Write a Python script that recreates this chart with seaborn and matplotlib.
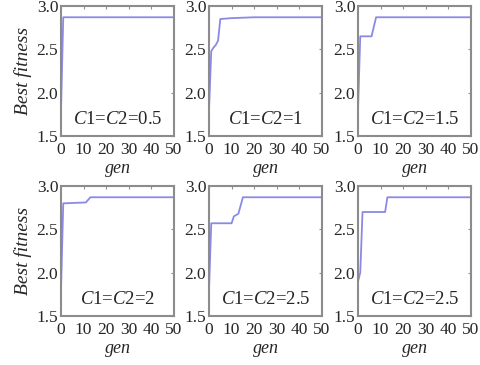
import matplotlib
matplotlib.use("Agg")
import matplotlib.pyplot as plt
import seaborn as sns
import pandas as pd

sns.set_style("white")
plt.rcParams['font.family'] = ['Liberation Serif', 'DejaVu Serif']
plt.rcParams['mathtext.fontset'] = 'custom'
plt.rcParams['mathtext.it'] = 'Liberation Serif:italic'
plt.rcParams['mathtext.rm'] = 'Liberation Serif'

labels = ["$C$1=$C$2=0.5", "$C$1=$C$2=1", "$C$1=$C$2=1.5",
          "$C$1=$C$2=2", "$C$1=$C$2=2.5", "$C$1=$C$2=2.5"]

gen1 = [0, 1, 50]
fit1 = [1.8, 2.87, 2.87]
gen2 = [0, 1, 2, 3, 4, 5, 10, 20, 50]
fit2 = [1.8, 2.48, 2.52, 2.55, 2.6, 2.85, 2.86, 2.87, 2.87]
gen3 = [0, 1, 6, 8, 50]
fit3 = [1.8, 2.65, 2.65, 2.87, 2.87]
gen4 = [0, 1, 11, 13, 50]
fit4 = [1.8, 2.8, 2.81, 2.87, 2.87]
gen5 = [0, 1, 10, 11, 13, 15, 50]
fit5 = [1.8, 2.57, 2.57, 2.65, 2.68, 2.87, 2.87]
gen6 = [0, 1, 2, 12, 13, 50]
fit6 = [1.9, 2.0, 2.7, 2.7, 2.87, 2.87]

gens = [gen1, gen2, gen3, gen4, gen5, gen6]
fits = [fit1, fit2, fit3, fit4, fit5, fit6]

fig = plt.figure(figsize=(4.8, 3.65), dpi=100)
lefts = [61/480, 209/480, 358/480]
bottoms = [1-136/365, 1-316/365]
w = 113/480
h = 130/365

for i in range(6):
    r, c = divmod(i, 3)
    ax = fig.add_axes([lefts[c], bottoms[r], w, h])
    df = pd.DataFrame({"gen": gens[i], "fit": fits[i]})
    sns.lineplot(data=df, x="gen", y="fit", ax=ax, color="#8a8ae6", linewidth=1.3)
    ax.set_xlim(0, 50)
    ax.set_ylim(1.5, 3.0)
    ax.set_xticks([0, 10, 20, 30, 40, 50])
    ax.set_yticks([1.5, 2.0, 2.5, 3.0])
    ax.set_yticklabels(["1.5", "2.0", "2.5", "3.0"])
    ax.tick_params(direction="in", length=2, width=0.8, color="#909090",
                   top=True, right=True, labelsize=12.5)
    ax.tick_params(axis="x", pad=4)
    ax.tick_params(axis="y", pad=2)
    for s in ax.spines.values():
        s.set_color("#8c8c8c")
        s.set_linewidth(1.5)
    ax.set_xlabel("gen", fontstyle="italic", fontsize=13, labelpad=2)
    if c == 0:
        ax.set_ylabel("Best fitness", fontstyle="italic", fontsize=14, labelpad=3)
    else:
        ax.set_ylabel("")
    ax.text(0.5, 0.125, labels[i], transform=ax.transAxes, ha="center", va="center",
            fontsize=13.5, bbox=dict(facecolor="white", edgecolor="none", pad=3))

fig.savefig("out.png", dpi=100)
